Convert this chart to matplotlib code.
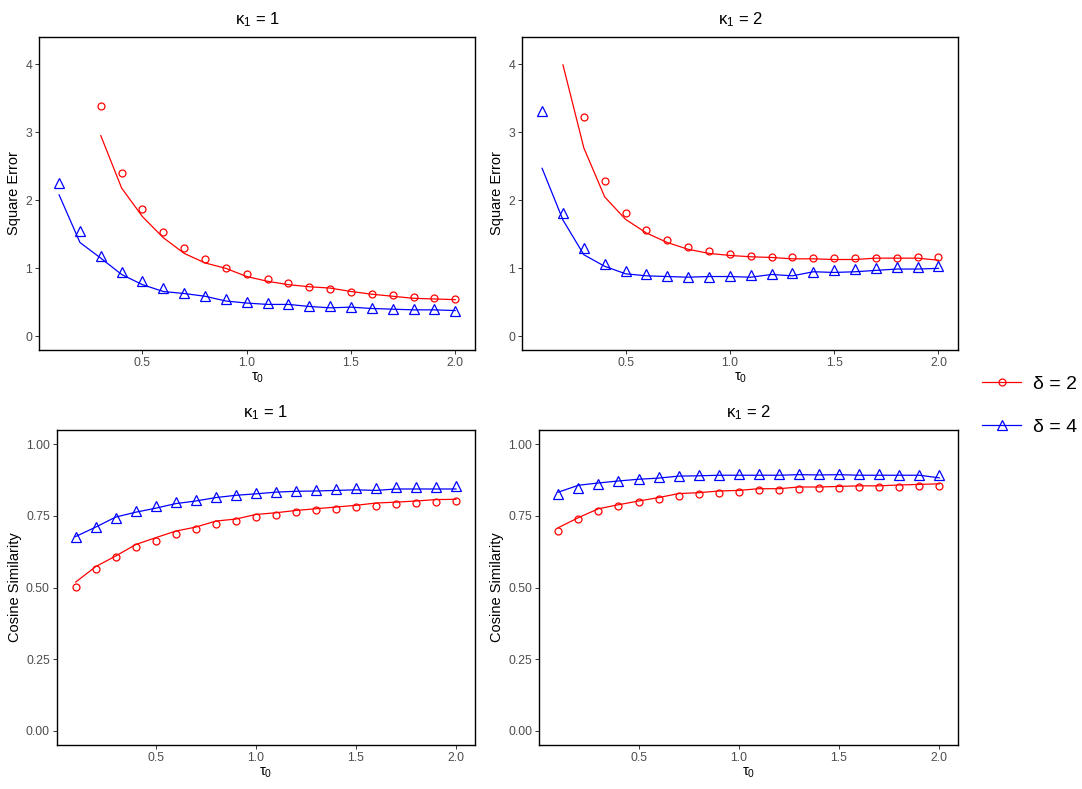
import numpy as np
import matplotlib
matplotlib.use("Agg")
import matplotlib.pyplot as plt
from matplotlib.lines import Line2D

nan = np.nan
tau0 = [0.1, 0.2, 0.3, 0.4, 0.5, 0.6, 0.7, 0.8, 0.9, 1.0,
        1.1, 1.2, 1.3, 1.4, 1.5, 1.6, 1.7, 1.8, 1.9, 2.0]

# Square error, kappa1 = 1
se_k1_d2_pts = [nan, nan, 3.38, 2.40, 1.87, 1.53, 1.30, 1.14, 1.00, 0.92,
                0.84, 0.78, 0.73, 0.70, 0.65, 0.62, 0.61, 0.58, 0.56, 0.55]
se_k1_d2_line = [nan, nan, 2.95, 2.18, 1.76, 1.45, 1.22, 1.08, 1.00, 0.88,
                 0.81, 0.76, 0.73, 0.71, 0.66, 0.62, 0.59, 0.56, 0.55, 0.54]
se_k1_d4_pts = [2.26, 1.55, 1.18, 0.95, 0.82, 0.71, 0.64, 0.59, 0.55, 0.51,
                0.49, 0.47, 0.45, 0.44, 0.43, 0.42, 0.40, 0.40, 0.40, 0.38]
se_k1_d4_line = [2.08, 1.38, 1.15, 0.91, 0.76, 0.66, 0.63, 0.59, 0.52, 0.49,
                 0.47, 0.47, 0.44, 0.42, 0.43, 0.41, 0.40, 0.39, 0.39, 0.38]

# Square error, kappa1 = 2
se_k2_d2_pts = [nan, nan, 3.22, 2.28, 1.81, 1.56, 1.41, 1.31, 1.25, 1.21,
                1.18, 1.17, 1.16, 1.15, 1.15, 1.15, 1.15, 1.15, 1.17, 1.17]
se_k2_d2_line = [nan, 3.99, 2.77, 2.05, 1.72, 1.52, 1.38, 1.28, 1.22, 1.19,
                 1.17, 1.16, 1.14, 1.14, 1.13, 1.13, 1.15, 1.15, 1.15, 1.12]
se_k2_d4_pts = [3.31, 1.82, 1.30, 1.07, 0.96, 0.92, 0.89, 0.88, 0.88, 0.89,
                0.90, 0.92, 0.93, 0.95, 0.97, 0.99, 1.00, 1.02, 1.02, 1.04]
se_k2_d4_line = [2.47, 1.71, 1.20, 1.03, 0.92, 0.89, 0.88, 0.87, 0.88, 0.88,
                 0.87, 0.91, 0.89, 0.95, 0.94, 0.95, 0.97, 0.99, 0.99, 1.00]

# Cosine similarity, kappa1 = 1
cs_k1_d2_pts = [0.501, 0.563, 0.606, 0.641, 0.664, 0.686, 0.704, 0.721, 0.732, 0.746,
                0.753, 0.763, 0.770, 0.774, 0.780, 0.784, 0.791, 0.795, 0.797, 0.802]
cs_k1_d2_line = [0.519, 0.573, 0.610, 0.650, 0.674, 0.697, 0.711, 0.732, 0.739, 0.755,
                 0.761, 0.769, 0.775, 0.781, 0.787, 0.795, 0.798, 0.802, 0.807, 0.808]
cs_k1_d4_pts = [0.676, 0.713, 0.744, 0.767, 0.783, 0.797, 0.807, 0.816, 0.824, 0.830,
                0.833, 0.837, 0.839, 0.843, 0.847, 0.847, 0.851, 0.851, 0.851, 0.853]
cs_k1_d4_line = [0.678, 0.711, 0.746, 0.763, 0.777, 0.793, 0.802, 0.814, 0.822, 0.827,
                 0.833, 0.836, 0.837, 0.839, 0.841, 0.839, 0.844, 0.844, 0.844, 0.844]

# Cosine similarity, kappa1 = 2
cs_k2_d2_pts = [0.697, 0.739, 0.767, 0.784, 0.798, 0.809, 0.819, 0.826, 0.830, 0.833,
                0.840, 0.840, 0.844, 0.846, 0.846, 0.851, 0.851, 0.851, 0.854, 0.854]
cs_k2_d2_line = [0.709, 0.744, 0.775, 0.789, 0.802, 0.814, 0.828, 0.831, 0.837, 0.839,
                 0.845, 0.845, 0.851, 0.851, 0.853, 0.855, 0.855, 0.858, 0.860, 0.862]
cs_k2_d4_pts = [0.825, 0.847, 0.862, 0.871, 0.878, 0.886, 0.889, 0.892, 0.894, 0.895,
                0.895, 0.895, 0.897, 0.896, 0.897, 0.895, 0.896, 0.894, 0.894, 0.894]
cs_k2_d4_line = [0.833, 0.857, 0.865, 0.872, 0.878, 0.882, 0.889, 0.890, 0.892, 0.892,
                 0.892, 0.892, 0.894, 0.893, 0.894, 0.892, 0.892, 0.892, 0.892, 0.883]

titles = [r"$\kappa_1$ = 1", r"$\kappa_1$ = 2", r"$\kappa_1$ = 1", r"$\kappa_1$ = 2"]
ylabels = ["Square Error", "Square Error", "Cosine Similarity", "Cosine Similarity"]
xticks = [0.5, 1.0, 1.5, 2.0]
xticklabels = ["0.5", "1.0", "1.5", "2.0"]
se_ticks = [0, 1, 2, 3, 4]
se_ticklabels = ["0", "1", "2", "3", "4"]
cs_ticks = [0.0, 0.25, 0.5, 0.75, 1.0]
cs_ticklabels = ["0.00", "0.25", "0.50", "0.75", "1.00"]
legend_labels = ["δ = 2", "δ = 4"]

plt.rcParams["font.family"] = ["Liberation Sans", "DejaVu Sans"]
plt.rcParams["mathtext.fontset"] = "custom"
plt.rcParams["mathtext.rm"] = "Liberation Sans"
plt.rcParams["mathtext.it"] = "Liberation Sans"
plt.rcParams["mathtext.default"] = "regular"

W, H = 1082, 789
fig = plt.figure(figsize=(W / 100, H / 100), dpi=100)

def rect(l, r, t, b):
    return [l / W, 1 - b / H, (r - l) / W, (b - t) / H]

rects = [rect(39.3, 475, 36.7, 350), rect(522.3, 958.3, 36.7, 350),
         rect(56.7, 475, 430, 745), rect(539.3, 958.3, 430, 745)]

panels = [
    (se_k1_d2_pts, se_k1_d2_line, se_k1_d4_pts, se_k1_d4_line),
    (se_k2_d2_pts, se_k2_d2_line, se_k2_d4_pts, se_k2_d4_line),
    (cs_k1_d2_pts, cs_k1_d2_line, cs_k1_d4_pts, cs_k1_d4_line),
    (cs_k2_d2_pts, cs_k2_d2_line, cs_k2_d4_pts, cs_k2_d4_line),
]

RED = "#FF0000"
BLUE = "#0000FF"
for i, (r, data) in enumerate(zip(rects, panels)):
    ax = fig.add_axes(r)
    d2p, d2l, d4p, d4l = data
    ax.plot(tau0, d2l, color=RED, lw=0.9)
    ax.plot(tau0, d4l, color=BLUE, lw=0.9)
    ax.plot(tau0, d2p, ls="none", marker="o", ms=5, mfc="none", mec=RED, mew=0.9)
    ax.plot(tau0, d4p, ls="none", marker="^", ms=6.5, mfc="none", mec=BLUE, mew=0.9)
    ax.set_xlim(0.005, 2.095)
    ax.set_xticks(xticks)
    ax.set_xticklabels(xticklabels)
    if i < 2:
        ax.set_ylim(-0.2, 4.405)
        ax.set_yticks(se_ticks)
        ax.set_yticklabels(se_ticklabels)
    else:
        ax.set_ylim(-0.05, 1.05)
        ax.set_yticks(cs_ticks)
        ax.set_yticklabels(cs_ticklabels)
    ax.tick_params(length=3, width=0.7, color="#333333", labelcolor="#4D4D4D",
                   labelsize=8.8, pad=2)
    for s in ax.spines.values():
        s.set_linewidth(1.0)
        s.set_color("black")
    ax.set_title(titles[i], fontsize=12, pad=9)
    ax.set_ylabel(ylabels[i], fontsize=10.5, labelpad=3)
    ax.set_xlabel(r"$\tau_0$", fontsize=10.5, labelpad=1)

handles = [
    Line2D([], [], color=RED, lw=0.9, marker="o", ms=5, mfc="none", mec=RED, mew=0.9),
    Line2D([], [], color=BLUE, lw=0.9, marker="^", ms=6.5, mfc="none", mec=BLUE, mew=0.9),
]
fig.legend(handles, legend_labels, loc="center left",
           bbox_to_anchor=(0.8916, 1 - 405.5 / H), frameon=False,
           fontsize=14, handlelength=2.0, handletextpad=0.6,
           labelspacing=1.3, numpoints=1)

fig.savefig("out.png", dpi=100)
